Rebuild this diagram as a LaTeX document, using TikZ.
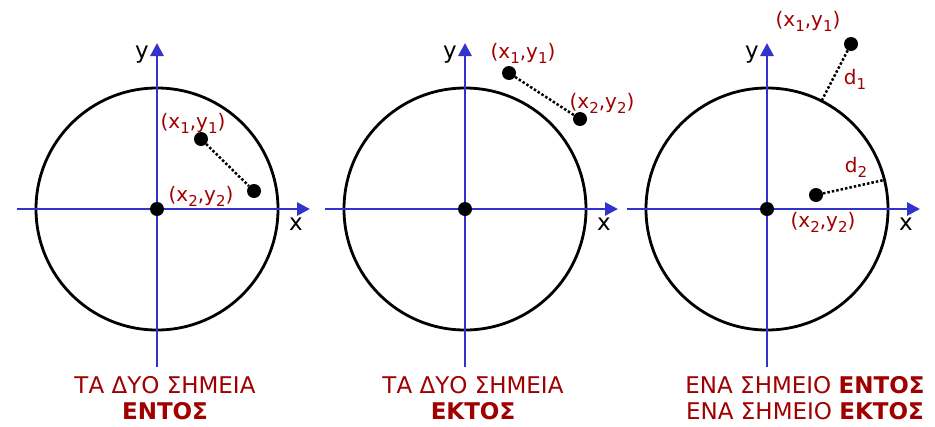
\documentclass[tikz,border=0pt]{standalone}
\usepackage{fontspec}
\setmainfont{DejaVu Sans}
\usetikzlibrary{arrows.meta}
\definecolor{axblue}{RGB}{51,51,204}
\definecolor{lblred}{RGB}{160,0,0}
\newcommand{\lowix}[1]{\raisebox{-5pt}{\fontsize{15}{15}\selectfont #1}}
\tikzset{
  axis/.style={draw=axblue,line width=2.8pt,-{Triangle[length=13pt,width=13pt]}},
  circ/.style={draw=black,line width=2.8pt},
  dotpt/.style={circle,fill=black,inner sep=0pt,minimum size=14pt},
  lbl/.style={text=lblred,font=\fontsize{20}{20}\selectfont,inner sep=0pt},
  axlbl/.style={text=black,font=\fontsize{23}{23}\selectfont,inner sep=0pt},
  dist/.style={draw=black,line width=2.5pt,dotted},
  caption/.style={text=lblred,font=\fontsize{23}{26}\selectfont,align=center,inner sep=0pt}
}
\begin{document}
\begin{tikzpicture}[x=1pt,y=-1pt]
\useasboundingbox (0,0) rectangle (935,426);
% ---------- Panel 1 ----------
\coordinate (o1) at (157,209);
\draw[circ] (o1) circle[radius=121];
\coordinate (x1s) at (17,209); \coordinate (x1e) at (310,209);
\coordinate (y1s) at (157,367); \coordinate (y1e) at (157,43);
\draw[axis] (x1s) -- (x1e);
\draw[axis] (y1s) -- (y1e);
\node[axlbl] (xl1) at (296,224) {x};
\node[axlbl] (yl1) at (142,55) {y};
\node[dotpt] (c1) at (o1) {};
\node[dotpt] (p1a) at (201,139) {};
\node[dotpt] (p1b) at (254,191) {};
\draw[dist] (p1a) -- (p1b);
\node[lbl] (l1a) at (193,123) {(x\lowix{1},y\lowix{1})};
\node[lbl] (l1b) at (201,196) {(x\lowix{2},y\lowix{2})};
\node[caption] (cap1) at (165,398) {ΤΑ ΔΥΟ ΣΗΜΕΙΑ\\\textbf{ΕΝΤΟΣ}};
% ---------- Panel 2 ----------
\coordinate (o2) at (465,209);
\draw[circ] (o2) circle[radius=121];
\coordinate (x2s) at (325,209); \coordinate (x2e) at (618,209);
\coordinate (y2s) at (465,367); \coordinate (y2e) at (465,43);
\draw[axis] (x2s) -- (x2e);
\draw[axis] (y2s) -- (y2e);
\node[axlbl] (xl2) at (604,224) {x};
\node[axlbl] (yl2) at (450,55) {y};
\node[dotpt] (c2) at (o2) {};
\node[dotpt] (p2a) at (509,73) {};
\node[dotpt] (p2b) at (580,119) {};
\draw[dist] (p2a) -- (p2b);
\node[lbl] (l2a) at (523,53) {(x\lowix{1},y\lowix{1})};
\node[lbl] (l2b) at (602,103) {(x\lowix{2},y\lowix{2})};
\node[caption] (cap2) at (473,398) {ΤΑ ΔΥΟ ΣΗΜΕΙΑ\\\textbf{ΕΚΤΟΣ}};
% ---------- Panel 3 ----------
\coordinate (o3) at (767,209);
\draw[circ] (o3) circle[radius=121];
\coordinate (x3s) at (627,209); \coordinate (x3e) at (920,209);
\coordinate (y3s) at (767,367); \coordinate (y3e) at (767,43);
\draw[axis] (x3s) -- (x3e);
\draw[axis] (y3s) -- (y3e);
\node[axlbl] (xl3) at (906,224) {x};
\node[axlbl] (yl3) at (752,55) {y};
\node[dotpt] (c3) at (o3) {};
\node[dotpt] (p3a) at (851,44) {};
\node[dotpt] (p3b) at (816,195) {};
\coordinate (q3a) at (822,100);
\coordinate (q3b) at (884,180);
\draw[dist] (p3a) -- (q3a);
\draw[dist] (p3b) -- (q3b);
\node[lbl] (l3a) at (808,21) {(x\lowix{1},y\lowix{1})};
\node[lbl] (l3b) at (823,222) {(x\lowix{2},y\lowix{2})};
\node[lbl] (d1) at (855,79) {d\lowix{1}};
\node[lbl] (d2) at (856,167) {d\lowix{2}};
\node[caption] (cap3) at (805,398) {ΕΝΑ ΣΗΜΕΙΟ \textbf{ΕΝΤΟΣ}\\ΕΝΑ ΣΗΜΕΙΟ \textbf{ΕΚΤΟΣ}};
\end{tikzpicture}
\end{document}
